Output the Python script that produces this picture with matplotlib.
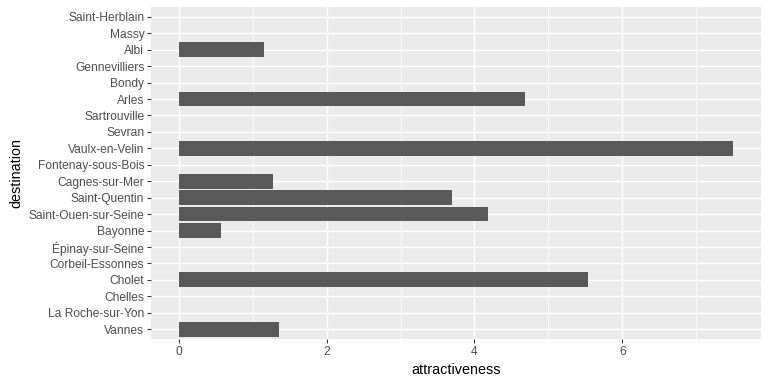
import matplotlib
matplotlib.use("Agg")
import matplotlib.pyplot as plt
import numpy as np

plt.rcParams['font.family'] = ['Liberation Sans', 'DejaVu Sans']

# destinations, bottom to top as drawn
destinations = [
    "Vannes", "La Roche-sur-Yon", "Chelles", "Cholet", "Corbeil-Essonnes",
    "Épinay-sur-Seine", "Bayonne", "Saint-Ouen-sur-Seine", "Saint-Quentin",
    "Cagnes-sur-Mer", "Fontenay-sous-Bois", "Vaulx-en-Velin", "Sevran",
    "Sartrouville", "Arles", "Bondy", "Gennevilliers", "Albi", "Massy",
    "Saint-Herblain",
]
attractiveness = [
    1.36, 0, 0, 5.53, 0,
    0, 0.57, 4.18, 3.69,
    1.28, 0, 7.5, 0,
    0, 4.68, 0, 0, 1.16, 0,
    0,
]

fig = plt.figure(figsize=(8, 4), dpi=96)
ax = fig.add_axes([151 / 768, 45 / 384, 610 / 768, 332 / 384])
ax.set_facecolor("#EBEBEB")

y = np.arange(1, len(destinations) + 1)
ax.barh(y, attractiveness, height=0.9, color="#595959", zorder=3)

xmax = max(attractiveness)
ax.set_xlim(-0.05 * xmax, xmax * 1.05)
ax.set_ylim(0.4, len(destinations) + 0.6)

ax.set_xticks([0, 2, 4, 6])
ax.set_xticks([1, 3, 5, 7], minor=True)
ax.set_yticks(y)
ax.set_yticklabels(destinations)

ax.grid(which="major", color="white", linewidth=1.1, zorder=1)
ax.grid(which="minor", axis="x", color="white", linewidth=0.55, zorder=1)

for s in ax.spines.values():
    s.set_visible(False)

ax.tick_params(which="major", length=3, width=0.8, color="#333333",
               labelcolor="#4D4D4D", labelsize=9, pad=2)
ax.tick_params(which="minor", length=0)

ax.set_xlabel("attractiveness", fontsize=10.8, color="black", labelpad=4)
ax.set_ylabel("destination", fontsize=10.8, color="black", labelpad=4)

fig.savefig("out.png", dpi=96)
